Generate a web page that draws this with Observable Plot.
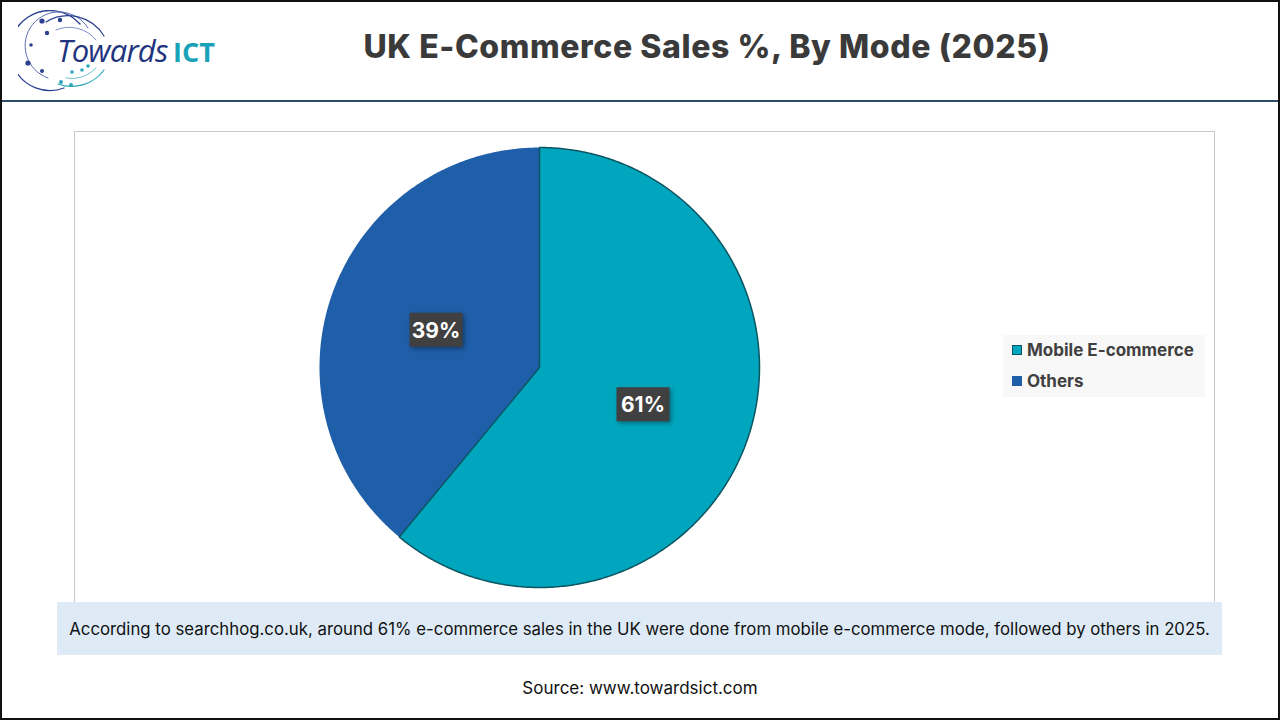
<!DOCTYPE html>
<html>
<head>
<meta charset="utf-8">
<script src="https://cdn.jsdelivr.net/npm/d3@7"></script>
<script src="https://cdn.jsdelivr.net/npm/@observablehq/plot@0.6"></script>
<style>
  html, body { margin: 0; padding: 0; background: #fff; }
  #page { position: relative; width: 1280px; height: 720px; box-sizing: border-box; border: 2px solid #111; overflow: hidden; font-family: Inter, "Open Sans", sans-serif; }
  #header-line { position: absolute; left: 0; top: 98px; width: 1280px; height: 2px; background: #2e4a6b; }
  #title { position: absolute; left: 250px; width: 910px; top: 26px; text-align: center; font-family: Inter, sans-serif; font-weight: 800; font-size: 32px; line-height: 38px; color: #3a3a3a; letter-spacing: 0.6px; }
  #logo { position: absolute; left: 16px; top: 8px; }
  #chartbox { position: absolute; left: 72px; top: 129px; width: 1139px; height: 470px; border: 1px solid #c9c9c9; background: #fff; }
  #plot { position: absolute; left: 0; top: 0; }
  #legend { position: absolute; left: 928px; top: 203px; width: 202px; height: 62px; background: #f8f8f8; font-family: Inter, sans-serif; font-weight: 700; font-size: 17px; color: #404040; }
  .lg-item { position: absolute; left: 9px; display: flex; align-items: center; }
  .lg-sw { width: 10px; height: 10px; margin-right: 5px; box-sizing: border-box; }
  #caption { position: absolute; left: 55px; top: 600px; width: 1165px; height: 53px; background: #deebf7; display: flex; align-items: center; justify-content: center; font-family: Inter, sans-serif; font-size: 16.8px; color: #111; }
  #source { position: absolute; left: 0; width: 1276px; top: 676px; text-align: center; font-family: Inter, sans-serif; font-size: 17px; color: #111; }
  .label-box { filter: drop-shadow(2px 2px 2px rgba(0,0,0,0.35)); }
</style>
</head>
<body>
<div id="page">
  <svg id="logo" width="200" height="84" viewBox="0 0 200 84">
    <g fill="none" stroke-linecap="round">
      <path d="M 62 14 A 40 40 0 1 0 46 78" stroke="#2b3f8f" stroke-width="1.3"/>
      <path d="M 70 18 A 34 34 0 1 0 30 68" stroke="#5b6fb5" stroke-width="1"/>
      <path d="M 28 12 A 42 42 0 0 1 86 26" stroke="#2b3f8f" stroke-width="1.2"/>
      <path d="M 38 20 A 34 34 0 0 1 78 30" stroke="#7f8fc8" stroke-width="1"/>
      <path d="M 40 74 A 40 40 0 0 0 86 60" stroke="#2aa7b8" stroke-width="1.2"/>
      <path d="M 48 68 A 32 32 0 0 0 78 58" stroke="#6cc3cf" stroke-width="1"/>
    </g>
    <g fill="#2b3f8f">
      <circle cx="24" cy="11" r="2.6"/><circle cx="42" cy="10" r="2.2"/><circle cx="29" cy="23" r="2.2"/>
      <circle cx="13" cy="35" r="1.8"/><circle cx="10" cy="53" r="2.6"/><circle cx="24" cy="61" r="2"/>
    </g>
    <g fill="#2aa7b8">
      <circle cx="54" cy="62" r="1.8"/><circle cx="64" cy="60" r="1.8"/><circle cx="70" cy="56" r="1.8"/>
      <circle cx="43" cy="72" r="2"/><circle cx="53" cy="75" r="2"/>
    </g>
    <text x="39" y="52" font-family="'Open Sans', sans-serif" font-style="italic" font-size="31" fill="#1f3580" letter-spacing="-0.8">Towards</text>
    <text x="155" y="52" font-family="'Open Sans', sans-serif" font-weight="700" font-size="27" fill="#1aa3b8">ICT</text>
  </svg>
  <div id="title">UK E-Commerce Sales %, By Mode (2025)</div>
  <div id="header-line"></div>
  <div id="chartbox">
    <div id="plot"></div>
    <div id="legend"></div>
  </div>
  <div id="caption">According to searchhog.co.uk, around 61% e-commerce sales in the UK were done from mobile e-commerce mode, followed by others in 2025.</div>
  <div id="source">Source: www.towardsict.com</div>
</div>
<script>
const categories = ["Mobile E-commerce", "Others"];
const shares = [61, 39];
const sliceColors = ["#00a6bd", "#1f5ea8"];

const data = categories.map((c, i) => ({cat: c, value: shares[i]}));
const arcs = d3.pie().sort(null).value(d => d.value)(data);

// polygon outline of each slice (unit radius), derived from the pie angles
const pts = [];
arcs.forEach(a => {
  const n = Math.max(2, Math.ceil((a.endAngle - a.startAngle) / (Math.PI / 360)));
  pts.push({cat: a.data.cat, x: 0, y: 0});
  for (let k = 0; k <= n; k++) {
    const t = a.startAngle + (a.endAngle - a.startAngle) * k / n;
    pts.push({cat: a.data.cat, x: Math.sin(t), y: Math.cos(t)});
  }
  pts.push({cat: a.data.cat, x: 0, y: 0});
});
const labels = arcs.map(a => {
  const m = (a.startAngle + a.endAngle) / 2;
  return {cat: a.data.cat, value: a.data.value, x: 0.5 * Math.sin(m), y: 0.5 * Math.cos(m)};
});

const cx = 464, cy = 235, R = 220;
const chart = Plot.plot({
  width: 1139,
  height: 470,
  margin: 0,
  x: {domain: [-1, 1], range: [cx - R, cx + R], axis: null},
  y: {domain: [-1, 1], range: [cy + R, cy - R], axis: null},
  color: {domain: categories, range: sliceColors},
  style: {background: "transparent", overflow: "visible"},
  marks: [
    Plot.line(pts, {x: "x", y: "y", z: "cat", fill: "cat", stroke: null, curve: "linear"}),
    Plot.line(pts.filter(d => d.cat === categories[0]), {x: "x", y: "y", stroke: "#0c5563", strokeWidth: 1.5, curve: "linear"}),
    Plot.rect(labels, {x1: "x", x2: "x", y1: "y", y2: "y", fill: "#404040", insetLeft: -26, insetRight: -27, insetTop: -17, insetBottom: -17, className: "label-box"}),
    Plot.text(labels, {x: "x", y: "y", text: d => d.value + "%", fill: "white", fontSize: 21, fontWeight: "bold", fontFamily: "Inter, sans-serif", dy: 1})
  ]
});
document.getElementById("plot").appendChild(chart);

const legend = document.getElementById("legend");
categories.forEach((c, i) => {
  const item = document.createElement("div");
  item.className = "lg-item";
  item.style.top = (i === 0 ? 5 : 36) + "px";
  const sw = document.createElement("span");
  sw.className = "lg-sw";
  sw.style.background = sliceColors[i];
  if (i === 0) sw.style.border = "1.5px solid #0c5563";
  const tx = document.createElement("span");
  tx.textContent = c;
  item.appendChild(sw);
  item.appendChild(tx);
  legend.appendChild(item);
});
</script>
</body>
</html>
